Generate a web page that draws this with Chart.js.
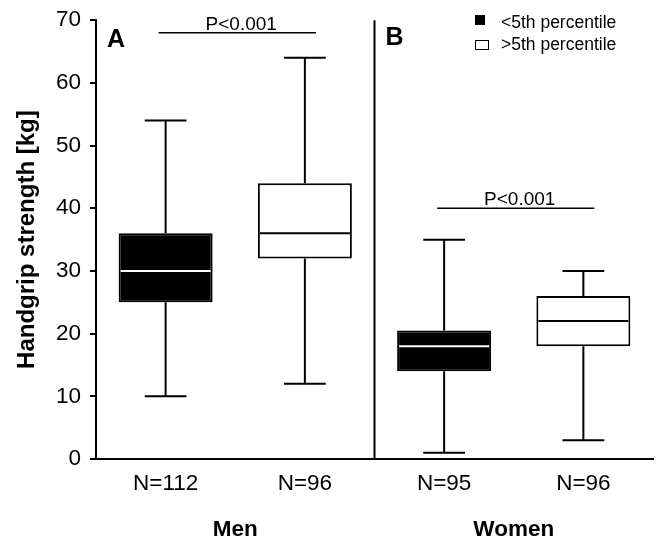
<!DOCTYPE html>
<html>
<head>
<meta charset="utf-8">
<script src="https://cdn.jsdelivr.net/npm/chart.js@4/dist/chart.umd.min.js"></script>
<style>
  body { margin: 0; background: #fff; }
  #wrap { width: 660px; height: 538px; }
</style>
</head>
<body>
<div id="wrap"><canvas id="chart"></canvas></div>
<script>
const categories = ["N=112", "N=96", "N=95", "N=96"];
const groups = ["Men", "Women"];
const series = ["<5th percentile", ">5th percentile"];
const seriesOf = [0, 1, 0, 1];
const whiskerLow = [10, 12, 1, 3];
const q1 = [25, 32, 14, 18];
const median = [30, 36, 18, 22];
const q3 = [36, 44, 20.5, 26];
const whiskerHigh = [54, 64, 35, 30];
const yTicks = [0, 10, 20, 30, 40, 50, 60, 70];
const bracketPairs = [[0, 1], [2, 3]];
const bracketLevel = [68, 40];
const bracketLabel = "P<0.001";
const panelLabels = ["A", "B"];

const FONT = "'Liberation Sans', Arial, sans-serif";
const fills = ["#000", "#fff"];

const boxPlot = {
  id: "boxPlot",
  beforeDatasetsDraw(chart) {
    const { ctx, scales: { x, y } } = chart;
    ctx.save();
    ctx.strokeStyle = "#000";
    ctx.lineWidth = 2;
    categories.forEach((c, i) => {
      const px = x.getPixelForValue(i);
      const cap = x.width / categories.length * 0.15;
      ctx.beginPath();
      ctx.moveTo(px, y.getPixelForValue(whiskerHigh[i]));
      ctx.lineTo(px, y.getPixelForValue(q3[i]));
      ctx.moveTo(px, y.getPixelForValue(q1[i]));
      ctx.lineTo(px, y.getPixelForValue(whiskerLow[i]));
      ctx.moveTo(px - cap, y.getPixelForValue(whiskerHigh[i]));
      ctx.lineTo(px + cap, y.getPixelForValue(whiskerHigh[i]));
      ctx.moveTo(px - cap, y.getPixelForValue(whiskerLow[i]));
      ctx.lineTo(px + cap, y.getPixelForValue(whiskerLow[i]));
      ctx.stroke();
    });
    ctx.restore();
  },
  afterDatasetsDraw(chart) {
    const { ctx, chartArea, scales: { x, y } } = chart;
    ctx.save();
    // medians
    categories.forEach((c, i) => {
      const bar = chart.getDatasetMeta(seriesOf[i]).data[i];
      const { x: bx, width } = bar.getProps(["x", "width"], true);
      const py = y.getPixelForValue(median[i]);
      ctx.strokeStyle = seriesOf[i] === 0 ? "#fff" : "#000";
      ctx.lineWidth = 2;
      ctx.beginPath();
      ctx.moveTo(bx - width / 2 + 2, py);
      ctx.lineTo(bx + width / 2 - 2, py);
      ctx.stroke();
    });
    // divider between panels
    const mid = (x.getPixelForValue(1) + x.getPixelForValue(2)) / 2;
    ctx.strokeStyle = "#000";
    ctx.lineWidth = 2;
    ctx.beginPath();
    ctx.moveTo(mid, chartArea.top);
    ctx.lineTo(mid, chartArea.bottom);
    ctx.stroke();
    // panel letters
    ctx.fillStyle = "#000";
    ctx.font = "bold 25px " + FONT;
    ctx.textBaseline = "alphabetic";
    ctx.textAlign = "left";
    ctx.fillText(panelLabels[0], chartArea.left + 11, chartArea.top + 27);
    ctx.fillText(panelLabels[1], mid + 11, chartArea.top + 25);
    // significance brackets
    ctx.font = "19px " + FONT;
    ctx.textAlign = "center";
    bracketPairs.forEach(([a, b], k) => {
      const x0 = x.getPixelForValue(a) - 7;
      const x1 = x.getPixelForValue(b) + 11;
      const py = y.getPixelForValue(bracketLevel[k]);
      ctx.lineWidth = 1.5;
      ctx.beginPath();
      ctx.moveTo(x0, py);
      ctx.lineTo(x1, py);
      ctx.stroke();
      ctx.fillText(bracketLabel, (x0 + x1) / 2 + 4, py - 3);
    });
    // legend
    const lx = chartArea.right - 178;
    ctx.font = "17.5px " + FONT;
    ctx.textAlign = "left";
    series.forEach((s, k) => {
      const ty = 28 + k * 22;
      ctx.fillStyle = fills[k];
      ctx.fillRect(lx, ty - 13 + k * 3, 10 + k * 3, 10);
      if (k === 1) {
        ctx.lineWidth = 1;
        ctx.strokeStyle = "#000";
        ctx.strokeRect(lx + 0.5, ty - 9.5, 13, 9);
      }
      ctx.fillStyle = "#000";
      ctx.fillText(s, lx + 26, ty);
    });
    ctx.restore();
  }
};

new Chart(document.getElementById("chart"), {
  type: "bar",
  data: {
    labels: categories,
    datasets: series.map((s, k) => ({
      label: s,
      data: categories.map((c, i) => seriesOf[i] === k ? [q1[i], q3[i]] : null),
      backgroundColor: fills[k],
      borderColor: "#000",
      borderWidth: 2,
      borderSkipped: false,
      skipNull: true,
      barPercentage: 1,
      categoryPercentage: 0.675
    }))
  },
  options: {
    responsive: true,
    maintainAspectRatio: false,
    animation: false,
    layout: { padding: { top: 18, right: 7, left: 0, bottom: 0 } },
    plugins: {
      legend: { display: false },
      tooltip: { enabled: false }
    },
    scales: {
      x: {
        weight: 0,
        grid: { display: false },
        border: { display: true, color: "#000", width: 2 },
        ticks: { color: "#000", font: { family: FONT, size: 22.5 }, padding: 3 },
        afterFit: s => { s.height = 40; }
      },
      x2: {
        type: "category",
        labels: groups,
        position: "bottom",
        weight: 1,
        offset: true,
        grid: { display: false },
        border: { display: false },
        ticks: { color: "#000", font: { family: FONT, size: 22.5, weight: "bold" }, padding: 9 },
        afterFit: s => { s.height = 39; }
      },
      y: {
        min: 0,
        max: 70,
        afterBuildTicks: s => { s.ticks = yTicks.map(v => ({ value: v })); },
        grid: { drawOnChartArea: false, drawTicks: true, tickLength: 6, color: "#000", lineWidth: 2 },
        border: { display: true, color: "#000", width: 2 },
        ticks: { color: "#000", font: { family: FONT, size: 22.5, lineHeight: 1 }, padding: 9 },
        title: {
          display: true,
          text: "Handgrip strength [kg]",
          color: "#000",
          font: { family: FONT, size: 24, weight: "bold" },
          padding: { top: 13, bottom: 0 }
        },
        afterFit: s => { s.width = 96; }
      }
    }
  },
  plugins: [boxPlot]
});
</script>
</body>
</html>
